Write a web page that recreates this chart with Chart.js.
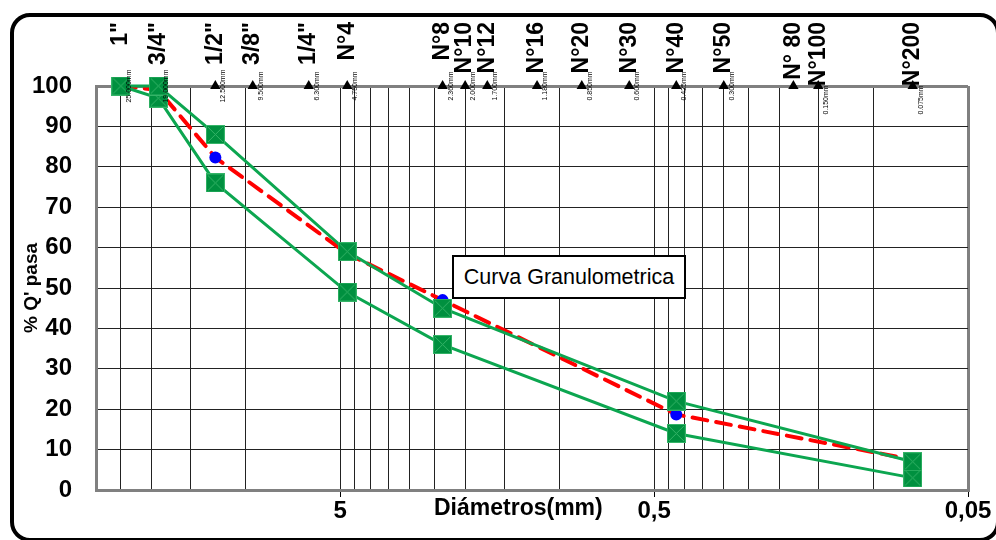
<!DOCTYPE html>
<html lang="es">
  <head>
    <meta charset="UTF-8" />
    <title>Curva Granulometrica</title>
    <script src="https://cdn.jsdelivr.net/npm/chart.js"></script>
    <style>
      html, body { margin: 0; padding: 0; background: #fff; }
      /* whole picture is one fixed-size box */
      #wrap {
        position: relative;
        width: 996px;
        height: 540px;
        overflow: hidden;
        font-family: "Liberation Sans", Arial, sans-serif;
      }
      #frame {
        position: absolute;
        left: 10px;
        top: 13px;
        width: 982px;
        height: 521px;
        border: 4px solid #000;
        border-radius: 20px;
      }
      #chart { position: absolute; left: 0; top: 0; }
      #legendBox {
        position: absolute;
        left: 452px;
        top: 255px;
        width: 230px;
        height: 40px;
        border: 2px solid #000;
        background: #fff;
        font-size: 21.5px;
        line-height: 40px;
        text-align: center;
        color: #000;
      }
      #xTitle {
        position: absolute;
        left: 434px;
        top: 494px;
        font-size: 23px;
        font-weight: bold;
        color: #000;
      }
    </style>
  </head>
  <body>
    <div id="wrap">
      <div id="frame"></div>
      <canvas id="chart" width="996" height="540"></canvas>
      <div id="legendBox">Curva Granulometrica</div>
      <div id="xTitle">Diámetros(mm)</div>
    </div>

    <script>
      // sieves (abertura en mm) and their names
      const sieveSizes = [25, 19, 12.5, 9.5, 6.3, 4.75, 2.36, 2.0, 1.7, 1.18, 0.85, 0.6, 0.425, 0.3, 0.18, 0.15, 0.075];
      const sieveNames = ['1"', '3/4"', '1/2"', '3/8"', '1/4"', "N°4", "N°8", "N°10", "N°12", "N°16", "N°20", "N°30", "N°40", "N°50", "N° 80", "N°100", "N°200"];
      const sieveMm = ["25.000mm", "19.000mm", "12.500mm", "9.500mm", "6.300mm", "4.750mm", "2.360mm", "2.000mm", "1.700mm", "1.180mm", "0.850mm", "0.600mm", "0.425mm", "0.300mm", "", "0.150mm", "0.075mm"];

      // band limits and measured curve
      const bandSizes = [25, 19, 12.5, 4.75, 2.36, 0.425, 0.075];
      const upperLimit = [100, 100, 88, 59, 45, 22, 7];
      const lowerLimit = [100, 97, 76, 49, 36, 14, 3];
      const curvePass = [100, 99, 82.3, 58.5, 47, 18.7, 7.5];

      // axes
      const xDecades = [0.05, 0.5, 5];
      const xLabelValues = [5, 0.5, 0.05];
      const xLabelTexts = ["5", "0,5", "0,05"];
      const yTicks = [0, 10, 20, 30, 40, 50, 60, 70, 80, 90, 100];

      const X_MIN = 0.05;
      const X_MAX = 30;

      const xGridValues = [];
      xDecades.forEach((d) => {
        for (let k = 1; k <= 9; k++) {
          const v = +(d * k).toPrecision(6);
          if (v <= X_MAX) xGridValues.push(v);
        }
      });

      const same = (a, b) => Math.abs(a - b) < 1e-9;
      const isLabelled = (v) => xLabelValues.some((l) => same(l, v));

      // square marker with a cross, like the excel one
      function makeSquare() {
        const c = document.createElement("canvas");
        c.width = 19;
        c.height = 19;
        const g = c.getContext("2d");
        g.fillStyle = "#00903F";
        g.fillRect(0, 0, 19, 19);
        g.strokeStyle = "#35B468";
        g.lineWidth = 1;
        g.strokeRect(0.5, 0.5, 18, 18);
        g.beginPath();
        g.moveTo(2, 2);
        g.lineTo(17, 17);
        g.moveTo(17, 2);
        g.lineTo(2, 17);
        g.stroke();
        return c;
      }
      const squareMark = makeSquare();

      const pts = (xs, ys) => xs.map((x, i) => ({ x: x, y: ys[i] }));

      // sieve names on top + small mm text under the triangles
      const sieveTextPlugin = {
        id: "sieveText",
        afterDraw(chart) {
          const ctx = chart.ctx;
          const xs = chart.scales.x;
          ctx.save();
          ctx.fillStyle = "#000";
          sieveSizes.forEach((s, i) => {
            const px = xs.getPixelForValue(s);
            ctx.save();
            ctx.translate(px, 22);
            ctx.rotate(-Math.PI / 2);
            ctx.font = "bold 23px 'Liberation Sans', Arial";
            ctx.textAlign = "right";
            ctx.textBaseline = "middle";
            ctx.fillText(sieveNames[i], 0, 0);
            ctx.restore();

            if (sieveMm[i]) {
              ctx.save();
              ctx.translate(px + 8, i >= 15 ? 100 : 86);
              ctx.rotate(-Math.PI / 2);
              ctx.font = "7px 'Liberation Sans', Arial";
              ctx.textAlign = "center";
              ctx.textBaseline = "middle";
              ctx.fillText(sieveMm[i], 0, 0);
              ctx.restore();
            }
          });
          ctx.restore();
        },
      };

      new Chart(document.getElementById("chart"), {
        type: "scatter",
        data: {
          datasets: [
            {
              label: "Limite superior",
              data: pts(bandSizes, upperLimit),
              showLine: true,
              borderColor: "#0CA650",
              borderWidth: 3,
              pointStyle: squareMark,
              pointRadius: 9,
              clip: false,
            },
            {
              label: "Limite inferior",
              data: pts(bandSizes, lowerLimit),
              showLine: true,
              borderColor: "#0CA650",
              borderWidth: 3,
              pointStyle: squareMark,
              pointRadius: 9,
              clip: false,
            },
            {
              label: "Curva Granulometrica",
              data: pts(bandSizes, curvePass),
              showLine: true,
              borderColor: "#FF0000",
              borderWidth: 4,
              borderDash: [15, 9],
              borderCapStyle: "round",
              pointBackgroundColor: "#0000FF",
              pointBorderWidth: 0,
              pointRadius: 6,
              clip: false,
            },
            {
              label: "Tamices",
              data: sieveSizes.map((s) => ({ x: s, y: 100 })),
              showLine: false,
              pointStyle: "triangle",
              pointRadius: 6,
              pointBackgroundColor: "#000",
              pointBorderColor: "#000",
              pointBorderWidth: 0,
              clip: false,
            },
          ],
        },
        options: {
          responsive: false,
          animation: false,
          devicePixelRatio: 1,
          layout: { padding: { top: 86, right: 28, left: 0, bottom: 0 } },
          plugins: {
            legend: { display: false },
            tooltip: { enabled: false },
          },
          scales: {
            x: {
              type: "logarithmic",
              reverse: true,
              min: X_MIN,
              max: X_MAX,
              afterBuildTicks: (scale) => {
                scale.ticks = xGridValues.map((v) => ({ value: v }));
              },
              afterFit: (scale) => {
                scale.height = 50;
              },
              border: { display: true, color: "#808080", width: 3 },
              grid: {
                drawTicks: true,
                tickLength: 7,
                color: (c) => {
                  const v = c.tick ? c.tick.value : 0;
                  if (same(v, X_MAX)) return "rgba(0,0,0,0)";
                  if (same(v, X_MIN)) return "#808080";
                  return "#222";
                },
                lineWidth: (c) => (c.tick && same(c.tick.value, X_MIN) ? 3 : 1),
                tickColor: (c) => (c.tick && isLabelled(c.tick.value) ? "#000" : "rgba(0,0,0,0)"),
                tickWidth: 1,
              },
              ticks: {
                autoSkip: false,
                maxRotation: 0,
                padding: 0,
                color: "#000",
                font: { family: "'Liberation Sans', Arial", size: 24, weight: "bold" },
                callback: (v) => {
                  const i = xLabelValues.findIndex((l) => same(l, v));
                  return i >= 0 ? xLabelTexts[i] : "";
                },
              },
            },
            y: {
              min: 0,
              max: 100,
              afterBuildTicks: (scale) => {
                scale.ticks = yTicks.map((v) => ({ value: v }));
              },
              afterFit: (scale) => {
                scale.width = 96;
              },
              border: { display: true, color: "#808080", width: 3 },
              grid: {
                drawTicks: false,
                color: (c) => (c.tick && c.tick.value === 100 ? "#808080" : "#222"),
                lineWidth: (c) => (c.tick && c.tick.value === 100 ? 3 : 1),
              },
              ticks: {
                padding: 24,
                color: "#000",
                font: { family: "'Liberation Sans', Arial", size: 24, weight: "bold" },
              },
              title: {
                display: true,
                text: "% Q' pasa",
                color: "#000",
                padding: { top: 20, bottom: 0 },
                font: { family: "'Liberation Sans', Arial", size: 19, weight: "bold" },
              },
            },
          },
        },
        plugins: [sieveTextPlugin],
      });
    </script>
  </body>
</html>
